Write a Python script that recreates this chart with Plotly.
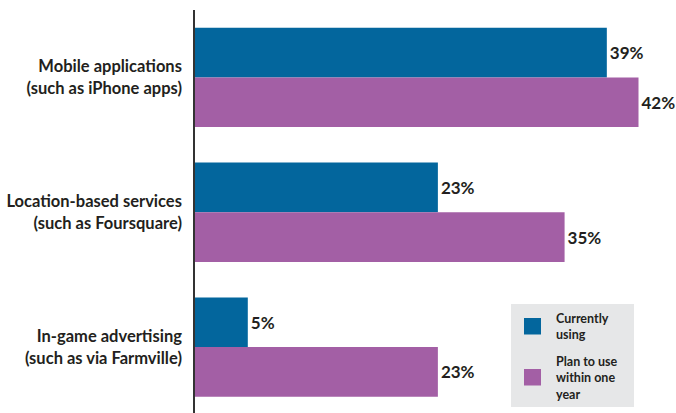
import plotly.graph_objects as go

# Survey categories (top to bottom) and their two series, in percent
categories = [
    "Mobile applications<br>(such as iPhone apps)",
    "Location-based services<br>(such as Foursquare)",
    "In-game advertising<br>(such as via Farmville)",
]
currently_using = [39, 23, 5]
plan_within_year = [42, 35, 23]
series_names = ["Currently<br>using", "Plan to use<br>within one<br>year"]

BLUE = "#03669d"
PURPLE = "#a35fa5"
TEXT = "#231f20"
FONT = "Lato"

W, H = 676, 413
M_L, M_R, M_T, M_B = 195, 0, 10, 0

fig = go.Figure()
for name, vals, color in [
    (series_names[0], currently_using, BLUE),
    (series_names[1], plan_within_year, PURPLE),
]:
    fig.add_trace(go.Bar(
        y=categories,
        x=vals,
        name=name,
        orientation="h",
        marker=dict(color=color, line=dict(width=0)),
        text=[f"{v}%" for v in vals],
        textposition="outside",
        cliponaxis=False,
        textfont=dict(family=FONT, size=17, color=TEXT, weight="bold"),
        showlegend=False,
    ))


# Boxed legend in the lower right, laid out in pixel units relative to the page
def px_x(px):
    return (px - M_L) / (W - M_L - M_R)


def px_y(py):
    return (H - M_B - py) / (H - M_T - M_B)


shapes = [
    dict(type="rect", xref="paper", yref="paper",
         x0=px_x(511), x1=px_x(634), y0=px_y(407), y1=px_y(304),
         fillcolor="#e6e7e8", line=dict(width=0), layer="below"),
]
annotations = []
legend_items = [(series_names[0], BLUE, 318, 326.5), (series_names[1], PURPLE, 369, 378)]
for name, color, sq_top, text_mid in legend_items:
    shapes.append(dict(type="rect", xref="paper", yref="paper",
                       x0=px_x(524), x1=px_x(541),
                       y0=px_y(sq_top + 16.5), y1=px_y(sq_top),
                       fillcolor=color, line=dict(width=0)))
    annotations.append(dict(
        xref="paper", yref="paper",
        x=px_x(554), y=px_y(text_mid),
        xanchor="left", yanchor="middle", align="left",
        text=name, showarrow=False,
        font=dict(family=FONT, size=12.5, color=TEXT, weight="bold"),
    ))

fig.update_layout(
    width=W,
    height=H,
    margin=dict(l=M_L, r=M_R, t=M_T, b=M_B),
    barmode="group",
    bargap=0.263,
    bargroupgap=0,
    plot_bgcolor="white",
    paper_bgcolor="white",
    font=dict(family=FONT, color=TEXT),
    showlegend=False,
    shapes=shapes,
    annotations=annotations,
    xaxis=dict(
        range=[0, 45.55],
        showgrid=False,
        zeroline=False,
        showticklabels=False,
        showline=False,
    ),
    yaxis=dict(
        range=[2.489, -0.5],
        showgrid=False,
        zeroline=False,
        showline=True,
        linecolor="#333333",
        linewidth=1.5,
        ticks="",
        ticklabelstandoff=8,
        tickfont=dict(family=FONT, size=16.5, color=TEXT, weight="bold"),
    ),
)

fig.write_html("out.html")
